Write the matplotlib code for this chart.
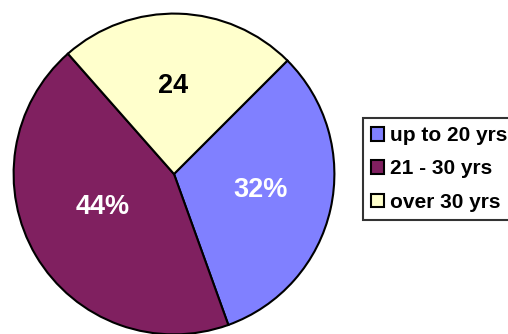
import matplotlib.pyplot as plt
from matplotlib.patches import Patch

categories = ["up to 20 yrs", "21 - 30 yrs", "over 30 yrs"]
values = [32, 44, 24]
labels = ["32%", "44%", "24"]
colors = ["#8080FF", "#802060", "#FFFFCC"]
label_colors = ["white", "white", "black"]
label_pos = [(0.537, -0.099), (-0.444, -0.204), (-0.006, 0.549)]

plt.rcParams["font.family"] = ["Liberation Sans", "DejaVu Sans"]
plt.rcParams["font.weight"] = "bold"

fig = plt.figure(figsize=(5.08, 3.34), dpi=100)
ax = fig.add_axes([12 / 508, -2 / 334, 324 / 508, 324 / 334])

wedges, texts, autotexts = ax.pie(
    values,
    colors=colors,
    startangle=45,
    counterclock=False,
    autopct="%d",
    pctdistance=0.55,
    wedgeprops={"edgecolor": "black", "linewidth": 1.5},
)
for t, lab, c, pos in zip(autotexts, labels, label_colors, label_pos):
    t.set_text(lab)
    t.set_color(c)
    t.set_fontsize(19.5)
    t.set_fontweight("bold")
    t.set_position(pos)
ax.set_xlim(-1.01, 1.01)
ax.set_ylim(-1.01, 1.01)
ax.axis("off")

handles = [Patch(facecolor=c, edgecolor="black", linewidth=1.5) for c in colors]
leg = fig.legend(
    handles,
    categories,
    loc="upper left",
    bbox_to_anchor=(363 / 508, 1 - 118 / 334),
    fontsize=15,
    frameon=True,
    fancybox=False,
    handlelength=0.62,
    handleheight=0.62,
    handletextpad=0.3,
    labelspacing=0.68,
    borderpad=0.4,
    borderaxespad=0,
)
leg.get_frame().set_edgecolor("black")
leg.get_frame().set_linewidth(1.5)
for t in leg.get_texts():
    t.set_fontweight("bold")

fig.savefig("out.png", dpi=100)
